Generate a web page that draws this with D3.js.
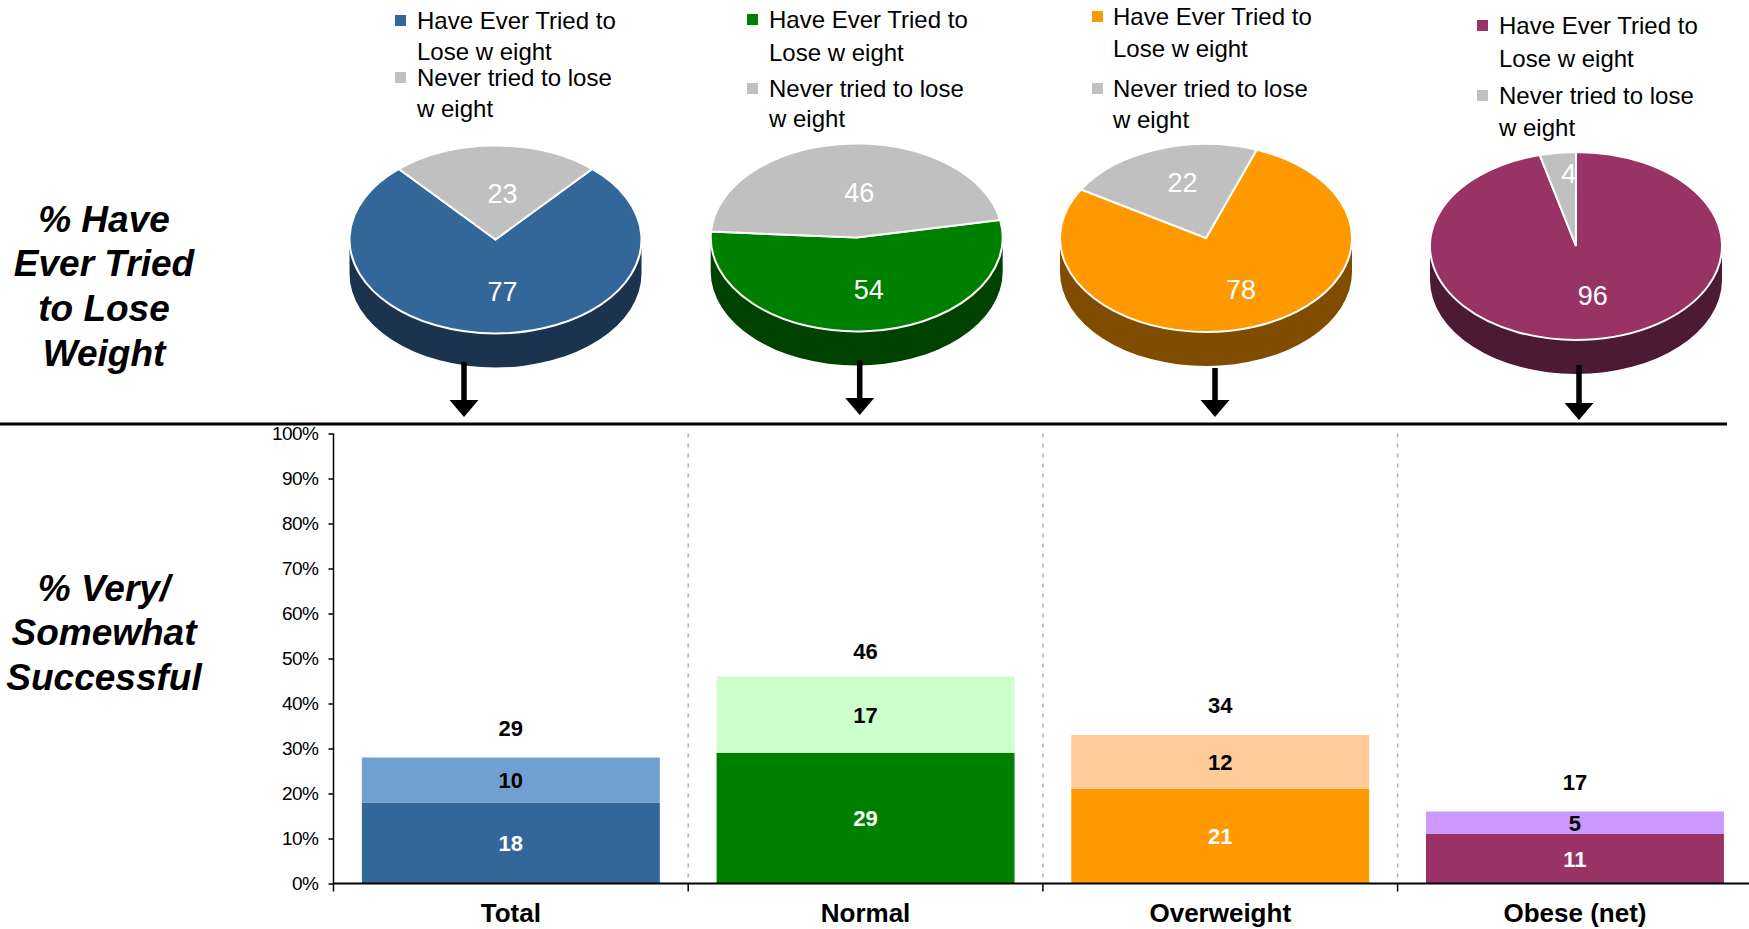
<!DOCTYPE html>
<html>
<head>
<meta charset="utf-8">
<script src="https://cdn.jsdelivr.net/npm/d3@7"></script>
<style>
  body { margin: 0; background: #fff; }
  svg { display: block; }
  text { font-family: "Liberation Sans", Arial, Helvetica, sans-serif; }
</style>
</head>
<body>
<svg id="chart" width="1749" height="929"></svg>
<script>
// ---- data ----
const categories = ["Total", "Normal", "Overweight", "Obese (net)"];
const everTried = [77, 54, 78, 96];
const neverTried = [23, 46, 22, 4];
const verySuccessful = [18, 29, 21, 11];
const somewhatSuccessful = [10, 17, 12, 5];
const netSuccessful = [29, 46, 34, 17];
const yTicks = [0, 10, 20, 30, 40, 50, 60, 70, 80, 90, 100];
const legendLabels = [["Have Ever Tried to", "Lose w eight"], ["Never tried to lose", "w eight"]];
const rowTitles = [["% Have", "Ever Tried", "to Lose", "Weight"], ["% Very/", "Somewhat", "Successful"]];

// ---- styling ----
const mainColors = ["#336699", "#008000", "#FF9900", "#993366"];
const sideColors = ["#1B334E", "#004200", "#804C00", "#4D1A33"];
const lightColors = ["#70A0D0", "#CCFFCC", "#FFCC99", "#CC99FF"];
const greyColor = "#C0C0C0";

// pie panels: centre, rotation of first slice (deg), label radius factors, legend + arrow placement
const panels = [
  { cx: 495.5, cy: 239.5, rot: 41.4, lab: [0.55, 0.49], lx: 395, tx: 417, lb: [29, 60, 86, 117], ax: 464, ay0: 362, ay1: 417 },
  { cx: 856.7, cy: 237.5, rot: 79.2, lab: [0.55, 0.48], lx: 747, tx: 769, lb: [28, 61, 97, 127], ax: 859.7, ay0: 360, ay1: 415 },
  { cx: 1206, cy: 238, rot: 20.3, lab: [0.58, 0.63], lx: 1092, tx: 1113, lb: [25, 57, 97, 128], ax: 1215, ay0: 368, ay1: 417 },
  { cx: 1576, cy: 246, rot: 0, lab: [0.53, 0.78], lx: 1477, tx: 1499, lb: [34, 67, 104, 136], ax: 1579, ay0: 365, ay1: 420 }
];
const rx = 146, ry = 94, depth = 34;

const svg = d3.select("#chart");

// ---- row titles ----
const titleLayout = [[231.6, 276, 321, 365.5], [601, 645.4, 690]];
rowTitles.forEach((lines, r) => {
  lines.forEach((t, i) => {
    svg.append("text")
      .attr("x", 104).attr("y", titleLayout[r][i])
      .attr("text-anchor", "middle")
      .attr("font-size", 37).attr("font-weight", "bold").attr("font-style", "italic")
      .attr("fill", "#000")
      .text(t);
  });
});

// ---- separator ----
svg.append("line")
  .attr("x1", 0).attr("x2", 1727).attr("y1", 424).attr("y2", 424)
  .attr("stroke", "#000").attr("stroke-width", 3);

// ---- 3D pies ----
// point on the (flattened) pie rim at angle a, radius r, pushed down by dy
const pt = (a, r, dy = 0) => [r * Math.sin(a), -ry / rx * r * Math.cos(a) + dy];

panels.forEach((p, i) => {
  const values = [everTried[i], neverTried[i]];
  const colors = [mainColors[i], greyColor];
  const start = p.rot * Math.PI / 180;
  const arcs = d3.pie().sort(null).startAngle(start).endAngle(start + 2 * Math.PI)(values);
  const g = svg.append("g").attr("transform", `translate(${p.cx},${p.cy})`);

  // cylinder wall: only the front half of each slice is visible
  const fronts = [[Math.PI / 2, 3 * Math.PI / 2], [Math.PI / 2 + 2 * Math.PI, 3 * Math.PI / 2 + 2 * Math.PI]];
  arcs.forEach((a, k) => {
    const sideCol = k === 0 ? sideColors[i] : d3.color(greyColor).darker(1.2).formatHex();
    fronts.forEach(([f0, f1]) => {
      const t0 = Math.max(a.startAngle, f0), t1 = Math.min(a.endAngle, f1);
      if (t1 <= t0) return;
      const p0 = pt(t0, rx), p1 = pt(t1, rx);
      const d = `M${p0[0]},${p0[1]} A${rx},${ry} 0 0 1 ${p1[0]},${p1[1]} L${p1[0]},${p1[1] + depth} A${rx},${ry} 0 0 0 ${p0[0]},${p0[1] + depth} Z`;
      g.append("path").attr("d", d).attr("fill", sideCol);
    });
  });

  // top face
  const arcGen = d3.arc().innerRadius(0).outerRadius(rx);
  const top = g.append("g").attr("transform", `scale(1,${ry / rx})`);
  top.selectAll("path").data(arcs).join("path")
    .attr("d", arcGen)
    .attr("fill", (d, k) => colors[k])
    .attr("stroke", "#fff").attr("stroke-width", 2)
    .attr("vector-effect", "non-scaling-stroke");

  // slice labels
  arcs.forEach((a, k) => {
    const mid = (a.startAngle + a.endAngle) / 2;
    const [lx, ly] = pt(mid, rx * p.lab[k]);
    g.append("text")
      .attr("x", lx + 7).attr("y", ly)
      .attr("dy", "0.35em")
      .attr("text-anchor", "middle")
      .attr("font-size", 27).attr("fill", "#fff")
      .text(values[k]);
  });

  // legend
  [0, 1].forEach(k => {
    const b0 = p.lb[k * 2], b1 = p.lb[k * 2 + 1];
    svg.append("rect")
      .attr("x", p.lx).attr("y", b0 - 14).attr("width", 11).attr("height", 11)
      .attr("fill", colors[k]);
    [b0, b1].forEach((b, j) => {
      svg.append("text")
        .attr("x", p.tx).attr("y", b)
        .attr("font-size", 24).attr("fill", "#000")
        .text(legendLabels[k][j]);
    });
  });

  // arrow down to the bar
  svg.append("line")
    .attr("x1", p.ax).attr("x2", p.ax).attr("y1", p.ay0).attr("y2", p.ay1 - 16)
    .attr("stroke", "#000").attr("stroke-width", 5.5);
  svg.append("path")
    .attr("d", `M${p.ax - 14.5},${p.ay1 - 17} L${p.ax + 14.5},${p.ay1 - 17} L${p.ax},${p.ay1} Z`)
    .attr("fill", "#000");
});

// ---- stacked bars ----
const x0 = 333.5, step = 354.7;
const x = d3.scaleBand().domain(categories).range([x0, x0 + step * categories.length])
  .paddingInner(0.16).paddingOuter(0.08);
const y = d3.scaleLinear().domain([0, 100]).range([883.5, 433.5]);

// dashed dividers between groups
for (let k = 1; k < categories.length; k++) {
  const xv = x0 + k * step;
  svg.append("line")
    .attr("x1", xv).attr("x2", xv).attr("y1", y(100)).attr("y2", y(0))
    .attr("stroke", "#B0B0B0").attr("stroke-width", 1.5).attr("stroke-dasharray", "4,6");
}

categories.forEach((c, i) => {
  const bx = x(c), bw = x.bandwidth();
  const v1 = verySuccessful[i], v2 = somewhatSuccessful[i];
  svg.append("rect")
    .attr("x", bx).attr("y", y(v1)).attr("width", bw).attr("height", y(0) - y(v1))
    .attr("fill", mainColors[i]);
  svg.append("rect")
    .attr("x", bx).attr("y", y(v1 + v2)).attr("width", bw).attr("height", y(v1) - y(v1 + v2))
    .attr("fill", lightColors[i]);

  const cx = bx + bw / 2;
  svg.append("text")
    .attr("x", cx).attr("y", (y(0) + y(v1)) / 2).attr("dy", "0.36em")
    .attr("text-anchor", "middle").attr("font-size", 22).attr("font-weight", "bold")
    .attr("fill", "#fff").text(v1);
  svg.append("text")
    .attr("x", cx).attr("y", (y(v1) + y(v1 + v2)) / 2).attr("dy", "0.36em")
    .attr("text-anchor", "middle").attr("font-size", 22).attr("font-weight", "bold")
    .attr("fill", "#000").text(v2);
  svg.append("text")
    .attr("x", cx).attr("y", y(netSuccessful[i]) - 25).attr("dy", "0.36em")
    .attr("text-anchor", "middle").attr("font-size", 22).attr("font-weight", "bold")
    .attr("fill", "#000").text(netSuccessful[i]);

  svg.append("text")
    .attr("x", cx).attr("y", 922)
    .attr("text-anchor", "middle").attr("font-size", 26).attr("font-weight", "bold")
    .attr("fill", "#000").text(c);
});

// y axis
const yAxis = svg.append("g").attr("transform", `translate(${x0},0)`)
  .call(d3.axisLeft(y).tickValues(yTicks).tickFormat(d => d + "%").tickSize(5).tickPadding(10));
yAxis.select(".domain").attr("stroke", "#000").attr("stroke-width", 1.5).attr("d", `M0,${y(100)}V${y(0)}`);
yAxis.selectAll(".tick line").attr("stroke", "#000").attr("stroke-width", 1.5);
yAxis.selectAll(".tick text").attr("font-size", 19).attr("fill", "#000")
  .attr("letter-spacing", "-0.5")
  .attr("font-family", "'Liberation Sans', Arial, sans-serif");

// x axis baseline with group ticks
svg.append("line")
  .attr("x1", x0).attr("x2", 1749).attr("y1", y(0)).attr("y2", y(0))
  .attr("stroke", "#000").attr("stroke-width", 2);
for (let k = 0; k < categories.length; k++) {
  const xv = x0 + k * step;
  svg.append("line")
    .attr("x1", xv).attr("x2", xv).attr("y1", y(0)).attr("y2", y(0) + 8)
    .attr("stroke", "#000").attr("stroke-width", 1.5);
}
</script>
</body>
</html>
